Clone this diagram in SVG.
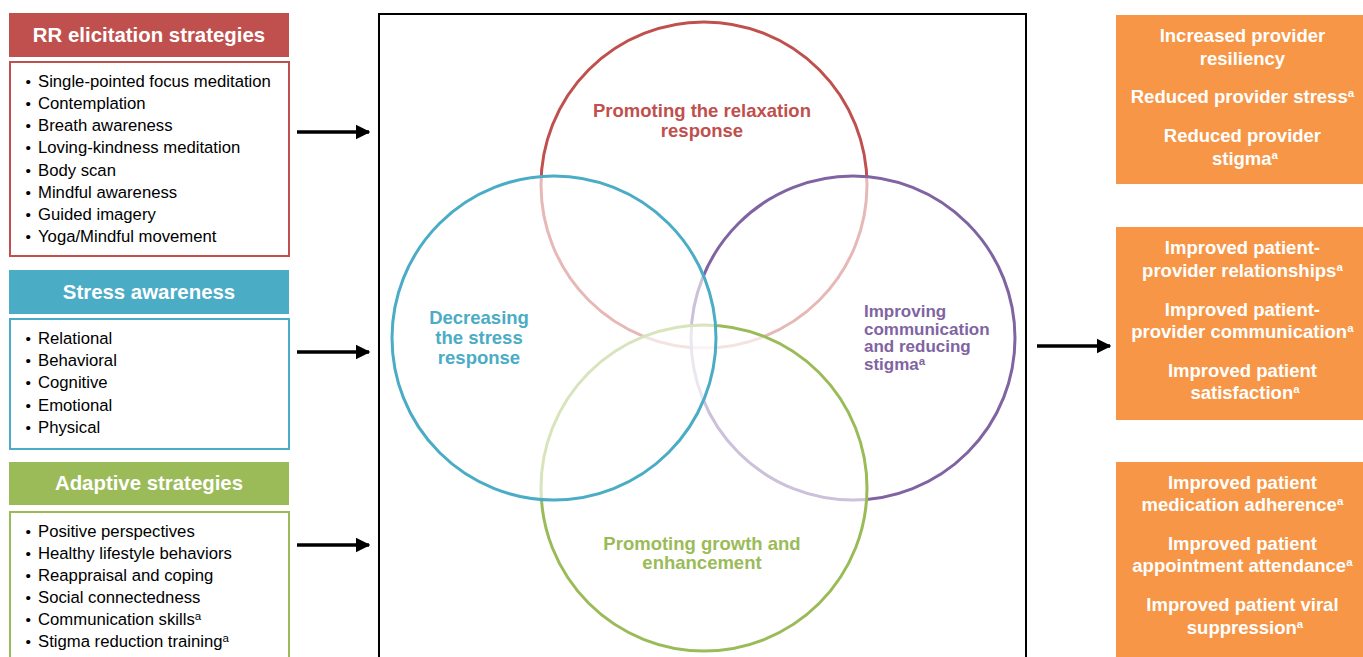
<svg xmlns="http://www.w3.org/2000/svg" width="1363" height="657" viewBox="0 0 1363 657">
  <style>
    .hdr { font: bold 20.4px "Liberation Sans", Arial, sans-serif; fill: #fff; text-anchor: middle; }
    .item { font: 16.7px "Liberation Sans", Arial, sans-serif; fill: #000; }
    .bul { font-size: 15.5px; }
    .out { font: bold 18.5px "Liberation Sans", Arial, sans-serif; fill: #fff; text-anchor: middle; }
    .lbl { font: bold 18.5px "Liberation Sans", Arial, sans-serif; text-anchor: middle; }
    .sup { font-size: 11.5px; }
    .ring { stroke-width: 3; fill: #fff; fill-opacity: 0.6; }
    .arrow { stroke: #000; stroke-width: 3.5; fill: none; marker-end: url(#head); }
  </style>
  <defs>
    <marker id="head" viewBox="0 0 10 10" refX="9" refY="5" markerWidth="4.2" markerHeight="4.8" markerUnits="strokeWidth" orient="auto">
      <path d="M0,0 L10,5 L0,10 Z" fill="#000"/>
    </marker>
  </defs>
  <rect width="1363" height="657" fill="#fff"/>

  <!-- Left column: RR elicitation strategies -->
  <g id="rr-elicitation">
    <rect x="9" y="13" width="280" height="44" fill="#C0504D"/>
    <text class="hdr" x="149" y="42">RR elicitation strategies</text>
    <rect x="10" y="62" width="279" height="194" fill="#fff" stroke="#C0504D" stroke-width="2"/>
    <text class="item">
      <tspan class="bul" x="25.5" y="87">•</tspan><tspan x="38" y="87">Single-pointed focus meditation</tspan>
      <tspan class="bul" x="25.5" y="109">•</tspan><tspan x="38" y="109">Contemplation</tspan>
      <tspan class="bul" x="25.5" y="131">•</tspan><tspan x="38" y="131">Breath awareness</tspan>
      <tspan class="bul" x="25.5" y="153">•</tspan><tspan x="38" y="153">Loving-kindness meditation</tspan>
      <tspan class="bul" x="25.5" y="176">•</tspan><tspan x="38" y="176">Body scan</tspan>
      <tspan class="bul" x="25.5" y="198">•</tspan><tspan x="38" y="198">Mindful awareness</tspan>
      <tspan class="bul" x="25.5" y="220">•</tspan><tspan x="38" y="220">Guided imagery</tspan>
      <tspan class="bul" x="25.5" y="242">•</tspan><tspan x="38" y="242">Yoga/Mindful movement</tspan>
    </text>
  </g>

  <!-- Left column: Stress awareness -->
  <g id="stress-awareness">
    <rect x="9" y="270" width="280" height="44" fill="#4BACC6"/>
    <text class="hdr" x="149" y="299">Stress awareness</text>
    <rect x="10" y="319" width="279" height="130" fill="#fff" stroke="#4BACC6" stroke-width="2"/>
    <text class="item">
      <tspan class="bul" x="25.5" y="344">•</tspan><tspan x="38" y="344">Relational</tspan>
      <tspan class="bul" x="25.5" y="366">•</tspan><tspan x="38" y="366">Behavioral</tspan>
      <tspan class="bul" x="25.5" y="388">•</tspan><tspan x="38" y="388">Cognitive</tspan>
      <tspan class="bul" x="25.5" y="411">•</tspan><tspan x="38" y="411">Emotional</tspan>
      <tspan class="bul" x="25.5" y="433">•</tspan><tspan x="38" y="433">Physical</tspan>
    </text>
  </g>

  <!-- Left column: Adaptive strategies -->
  <g id="adaptive-strategies">
    <rect x="9" y="462" width="280" height="43" fill="#9BBB59"/>
    <text class="hdr" x="149" y="490">Adaptive strategies</text>
    <rect x="10" y="512" width="279" height="170" fill="#fff" stroke="#9BBB59" stroke-width="2"/>
    <text class="item">
      <tspan class="bul" x="25.5" y="537">•</tspan><tspan x="38" y="537">Positive perspectives</tspan>
      <tspan class="bul" x="25.5" y="559">•</tspan><tspan x="38" y="559">Healthy lifestyle behaviors</tspan>
      <tspan class="bul" x="25.5" y="581">•</tspan><tspan x="38" y="581">Reappraisal and coping</tspan>
      <tspan class="bul" x="25.5" y="603">•</tspan><tspan x="38" y="603">Social connectedness</tspan>
      <tspan class="bul" x="25.5" y="625">•</tspan><tspan x="38" y="625">Communication skills<tspan class="sup" dy="-5">a</tspan></tspan>
      <tspan class="bul" x="25.5" y="647">•</tspan><tspan x="38" y="647">Stigma reduction training<tspan class="sup" dy="-5">a</tspan></tspan>
    </text>
  </g>

  <!-- Central frame with the four overlapping mechanism circles -->
  <g id="mechanisms">
    <rect x="379" y="14" width="647" height="680" fill="#fff" stroke="#000" stroke-width="2"/>
    <circle class="ring" cx="704" cy="185" r="163" stroke="#C0504D"/>
    <circle class="ring" cx="853" cy="338" r="162" stroke="#8064A2"/>
    <circle class="ring" cx="704" cy="488" r="163" stroke="#9BBB59"/>
    <circle class="ring" cx="554" cy="338" r="162" stroke="#4BACC6"/>
  </g>
  <g id="relaxation-response">
    <text class="lbl" fill="#C0504D"><tspan x="702" y="117">Promoting the relaxation</tspan><tspan x="702" y="137">response</tspan></text>
  </g>
  <g id="stress-response">
    <text class="lbl" fill="#4BACC6"><tspan x="479" y="324">Decreasing</tspan><tspan x="479" y="344">the stress</tspan><tspan x="479" y="364">response</tspan></text>
  </g>
  <g id="communication-stigma">
    <text class="lbl" fill="#8064A2" style="text-anchor:start;font-size:17px"><tspan x="864" y="317">Improving</tspan><tspan x="864" y="335">communication</tspan><tspan x="864" y="352">and reducing</tspan><tspan x="864" y="370">stigma<tspan class="sup" dy="-5">a</tspan></tspan></text>
  </g>
  <g id="growth-enhancement">
    <text class="lbl" fill="#9BBB59"><tspan x="702" y="550">Promoting growth and</tspan><tspan x="702" y="569">enhancement</tspan></text>
  </g>

  <!-- Right column: outcomes -->
  <g id="provider-outcomes">
    <rect x="1116" y="15" width="250" height="169" fill="#F79646"/>
    <text class="out">
      <tspan x="1245" y="42">Increased provider</tspan>
      <tspan x="1245" y="65">resiliency</tspan>
      <tspan x="1245" y="103">Reduced provider stress<tspan class="sup" dy="-6">a</tspan></tspan>
      <tspan x="1245" y="142">Reduced provider</tspan>
      <tspan x="1245" y="165">stigma<tspan class="sup" dy="-6">a</tspan></tspan>
    </text>
  </g>
  <g id="relationship-outcomes">
    <rect x="1116" y="227" width="250" height="193" fill="#F79646"/>
    <text class="out">
      <tspan x="1245" y="254">Improved patient-</tspan>
      <tspan x="1245" y="277">provider relationships<tspan class="sup" dy="-6">a</tspan></tspan>
      <tspan x="1245" y="316">Improved patient-</tspan>
      <tspan x="1245" y="338">provider communication<tspan class="sup" dy="-6">a</tspan></tspan>
      <tspan x="1245" y="377">Improved patient</tspan>
      <tspan x="1245" y="399">satisfaction<tspan class="sup" dy="-6">a</tspan></tspan>
    </text>
  </g>
  <g id="clinical-outcomes">
    <rect x="1116" y="462" width="250" height="220" fill="#F79646"/>
    <text class="out">
      <tspan x="1245" y="489">Improved patient</tspan>
      <tspan x="1245" y="511">medication adherence<tspan class="sup" dy="-6">a</tspan></tspan>
      <tspan x="1245" y="550">Improved patient</tspan>
      <tspan x="1245" y="572">appointment attendance<tspan class="sup" dy="-6">a</tspan></tspan>
      <tspan x="1245" y="611">Improved patient viral</tspan>
      <tspan x="1245" y="634">suppression<tspan class="sup" dy="-6">a</tspan></tspan>
    </text>
  </g>

  <!-- Connectors -->
  <g id="connectors">
    <line class="arrow" x1="297" y1="132" x2="369" y2="132"/>
    <line class="arrow" x1="297" y1="352" x2="369" y2="352"/>
    <line class="arrow" x1="297" y1="545" x2="369" y2="545"/>
    <line class="arrow" x1="1037" y1="346" x2="1110" y2="346"/>
  </g>
</svg>
